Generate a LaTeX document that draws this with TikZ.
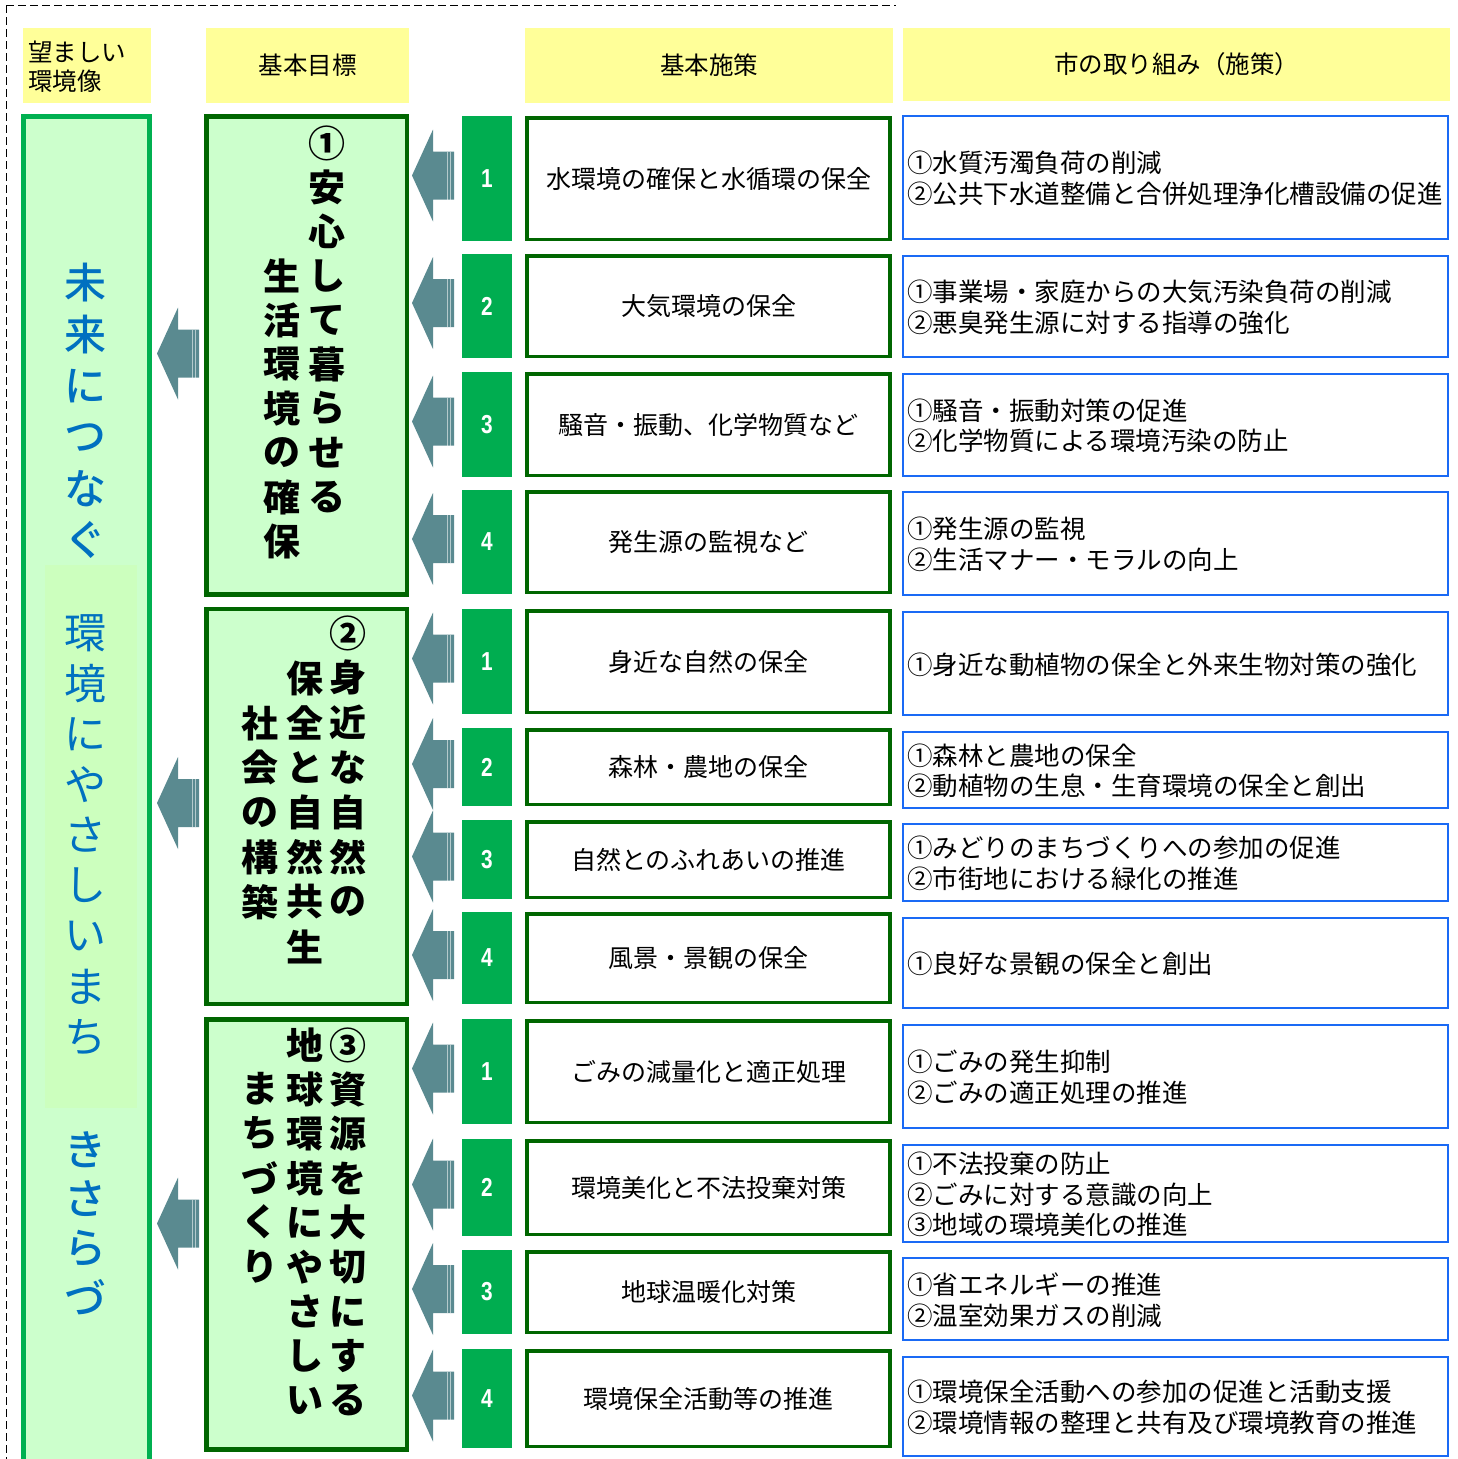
\documentclass[tikz,border=0pt]{standalone}
\usepackage{fontspec}
\setmainfont{Noto Sans CJK JP}
\newfontfamily\medfont{Noto Sans CJK JP}[UprightFont={* Medium}]
\newfontfamily\numfont[FakeStretch=0.8]{Liberation Sans}
\usetikzlibrary{calc}
\definecolor{hdr}{HTML}{FFFF99}
\definecolor{lightg}{HTML}{CCFFCC}
\definecolor{innerg}{HTML}{CCFFBE}
\definecolor{visborder}{HTML}{00B050}
\definecolor{goalgreen}{HTML}{006600}
\definecolor{numgreen}{HTML}{00AD50}
\definecolor{cityblue}{HTML}{1A6AF5}
\definecolor{visblue}{HTML}{0070C0}
\definecolor{arrowc}{HTML}{5A8A90}

\newcommand\prow[8]{%
  \node[numbox, minimum height={#3-#2}] (n#1) at (487,{(#2+#3)/2}) {#6};
  \node[polbox, minimum height={#3-#2-3.5}] (p#1) at (708.5,{(#2+#3)/2}) {#7};
  \node[citybox, minimum height={#5-#4-2}] (c#1) at (1175.5,{(#4+#5)/2}) {};
  \node[citytext] (t#1) at ($(c#1.west)+(5,1)$) {#8};
}
\newcommand\blockarrow[1]{%
  \fill[arrowfill] #1 -- ++(21,-46) -- ++(0,22) -- ++(21,0) -- ++(0,48) -- ++(-21,0) -- ++(0,22) -- cycle;
  \draw[white, opacity=.55, line width=.8pt] #1 ++(35.5,-24) -- ++(0,48);
  \draw[white, opacity=.55, line width=.8pt] #1 ++(38.5,-24) -- ++(0,48);
}
\newcommand\vtext[6]{%
  \foreach \ch [count=\i from 0] in {#6} {\node[#5] (#1\i) at (#2,{#3+\i*#4}) {\ch};}
}

\begin{document}
\begin{tikzpicture}[x=1pt,y=-1pt,
  hdrbox/.style={fill=hdr, inner sep=0, font=\fontsize{24.5}{29}\selectfont},
  visbox/.style={draw=visborder, line width=5pt, fill=lightg, inner sep=0},
  goalbox/.style={draw=goalgreen, line width=4.5pt, fill=lightg, inner sep=0, minimum width=200.5pt},
  numbox/.style={fill=numgreen, text=white, font=\numfont\bfseries\fontsize{26}{26}\selectfont, minimum width=50pt, inner sep=0},
  polbox/.style={draw=goalgreen, line width=3.5pt, fill=white, minimum width=363pt, inner sep=0, font=\fontsize{25}{29}\selectfont},
  citybox/.style={draw=cityblue, line width=2pt, fill=white, minimum width=545pt, inner sep=0},
  citytext/.style={anchor=west, align=left, inner sep=0, font=\fontsize{25.5}{30.5}\selectfont},
  goalch/.style={font=\bfseries\fontsize{37}{37}\selectfont, inner sep=0},
  visch/.style={text=visblue, font=\fontsize{42}{42}\selectfont, inner sep=0},
  vischb/.style={text=visblue, font=\medfont\fontsize{42}{42}\selectfont, inner sep=0},
  arrowfill/.style={fill=arrowc},
  frame/.style={dash pattern=on 8pt off 4pt, line width=0.8pt}
]
\useasboundingbox (0,0) rectangle (1458,1459);

% outer dashed frame (top and left)
\draw[frame] (6,5) -- (896,5);
\draw[frame] (6,5) -- (6,1459);

% headers
\node[hdrbox, minimum width=128pt, minimum height=75pt] (h1) at (87,65.5) {};
\node[anchor=west, align=left, inner sep=0, font=\fontsize{24.5}{29}\selectfont] (h1t) at (28,67) {望ましい\\環境像};
\node[hdrbox, minimum width=203pt, minimum height=75pt] (h2) at (307.5,65.5) {基本目標};
\node[hdrbox, minimum width=368pt, minimum height=75pt] (h3) at (709,65.5) {基本施策};
\node[hdrbox, minimum width=547pt, minimum height=73pt] (h4) at (1176.5,64.5) {市の取り組み（施策）};

% vision column
\node[visbox, minimum width=126pt, minimum height=1366pt] (lc) at (86.5,{116.5+683}) {};
\node[fill=innerg, inner sep=0, minimum width=92pt, minimum height=543pt] (lci) at (91,836.5) {};
\vtext{va}{85}{283}{51.4}{vischb}{未,来,に,つ,な,ぐ}
\vtext{vb}{85}{633}{50.5}{visch}{環,境,に,や,さ,し,い,ま,ち}
\vtext{vc}{85}{1150}{49}{vischb}{き,さ,ら,づ}

% goal boxes
\node[goalbox, minimum height=478pt] (g1) at (306.5,355.5) {};
\node[goalbox, minimum height=395pt] (g2) at (306.5,806.5) {};
\node[goalbox, minimum height=430pt] (g3) at (306.5,1234.5) {};

\vtext{ga}{327}{143}{44.25}{goalch}{①,安,心,し,て,暮,ら,せ,る}
\vtext{gb}{282}{276}{44.25}{goalch}{生,活,環,境,の,確,保}

\vtext{gc}{348}{633}{44.8}{goalch}{②,身,近,な,自,然,の}
\vtext{gd}{305}{678}{44.8}{goalch}{保,全,と,自,然,共,生}
\vtext{ge}{260}{723}{44.8}{goalch}{社,会,の,構,築}

\vtext{gf}{348}{1045}{44.4}{goalch}{③,資,源,を,大,切,に,す,る}
\vtext{gg}{305}{1045}{44.4}{goalch}{地,球,環,境,に,や,さ,し,い}
\vtext{gh}{260}{1089}{44.4}{goalch}{ま,ち,づ,く,り}

% rows
\prow{1}{116}{241}{115}{240}{1}{水環境の確保と水循環の保全}{①水質汚濁負荷の削減\\②公共下水道整備と合併処理浄化槽設備の促進}
\prow{2}{254}{358}{255}{358}{2}{大気環境の保全}{①事業場・家庭からの大気汚染負荷の削減\\②悪臭発生源に対する指導の強化}
\prow{3}{372}{477}{373}{477}{3}{騒音・振動、化学物質など}{①騒音・振動対策の促進\\②化学物質による環境汚染の防止}
\prow{4}{490}{594}{491}{596}{4}{発生源の監視など}{①発生源の監視\\②生活マナー・モラルの向上}
\prow{5}{609}{714}{611}{716}{1}{身近な自然の保全}{①身近な動植物の保全と外来生物対策の強化}
\prow{6}{728}{806}{731}{809}{2}{森林・農地の保全}{①森林と農地の保全\\②動植物の生息・生育環境の保全と創出}
\prow{7}{820}{899}{823}{902}{3}{自然とのふれあいの推進}{①みどりのまちづくりへの参加の促進\\②市街地における緑化の推進}
\prow{8}{912}{1004}{917}{1009}{4}{風景・景観の保全}{①良好な景観の保全と創出}
\prow{9}{1019}{1124}{1024}{1129}{1}{ごみの減量化と適正処理}{①ごみの発生抑制\\②ごみの適正処理の推進}
\prow{10}{1139}{1236}{1144}{1243}{2}{環境美化と不法投棄対策}{①不法投棄の防止\\②ごみに対する意識の向上\\③地域の環境美化の推進}
\prow{11}{1250}{1334}{1257}{1341}{3}{地球温暖化対策}{①省エネルギーの推進\\②温室効果ガスの削減}
\prow{12}{1349}{1448}{1356}{1457}{4}{環境保全活動等の推進}{①環境保全活動への参加の促進と活動支援\\②環境情報の整理と共有及び環境教育の推進}

% arrows from policies to goals
\foreach \r/\g in {1/g1,2/g1,3/g1,4/g1,5/g2,6/g2,7/g2,8/g2,9/g3,10/g3,11/g3,12/g3}{
  \blockarrow{($(\g.east |- n\r.center)+(3,-3)$)}
}
% arrows from goals to vision
\blockarrow{($(lc.east |- g1.center)+(5,-2)$)}
\blockarrow{($(lc.east |- g2.center)+(5,-3.5)$)}
\blockarrow{($(lc.east |- g3.center)+(5,-11)$)}
\end{tikzpicture}
\end{document}
